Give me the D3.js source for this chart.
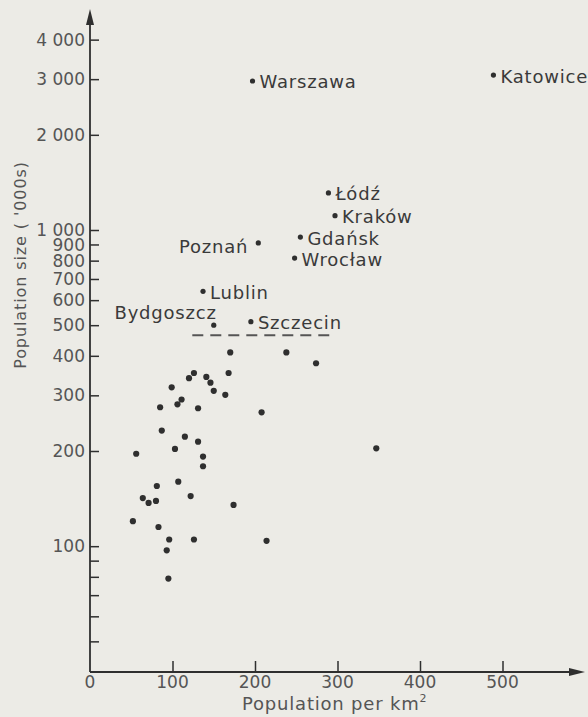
<!DOCTYPE html>
<html>
<head>
<meta charset="utf-8">
<script src="https://cdn.jsdelivr.net/npm/d3@7"></script>
<style>
  html, body { margin: 0; padding: 0; background: #ecebe6; }
  svg { display: block; }
  text { font-family: "DejaVu Sans", sans-serif; }
</style>
</head>
<body>
<svg id="chart" width="588" height="717"></svg>
<script>
// ---------- data ----------
const cityNames   = ["Warszawa", "Katowice", "Łódź", "Kraków", "Gdańsk", "Wrocław", "Poznań", "Lublin", "Bydgoszcz", "Szczecin"];
const cityDensity = [197, 489, 289, 297, 255, 248, 204, 137, 150, 195];
const cityPop     = [2960, 3090, 1310, 1110, 950, 815, 910, 640, 500, 513];

const otherDensity = [170, 238, 274, 126, 120, 141, 146, 168, 99, 150, 164, 111, 106, 85, 131, 208,
                      87, 115, 131, 103, 347, 56, 137, 137, 81, 107, 122, 64, 71, 80, 174, 52, 83,
                      96, 126, 214, 93, 95];
const otherPop     = [410, 410, 379, 353, 340, 343, 329, 353, 318, 310, 301, 291, 281, 275, 273, 265,
                      232, 222, 214, 203, 204, 196, 192, 179, 155, 160, 144, 142, 137, 139, 135, 120, 115,
                      105, 105, 104, 97, 79];

const thresholdPop = 465;
const thresholdFrom = 124, thresholdTo = 290;

const xTickValues = [100, 200, 300, 400, 500];
const xTickLabels = ["100", "200", "300", "400", "500"];
const yTickValues = [50, 60, 70, 80, 90, 100, 200, 300, 400, 500, 600, 700, 800, 900, 1000, 2000, 3000, 4000];
const yTickLabels = ["", "", "", "", "", "100", "200", "300", "400", "500", "600", "700", "800", "900",
                     "1 000", "2 000", "3 000", "4 000"];

// label placement (layout only)
const labelLeft = { "Poznań": true };
const labelAboveLeft = { "Bydgoszcz": true };

// ---------- chart ----------
const svg = d3.select("#chart");
const ink = "#2f2f2f";

const x = d3.scaleLinear().domain([0, 600]).range([90, 585]);
const y = d3.scaleLog().domain([40, 5000]).range([672, 9]);

// axes lines
const x0 = x(0), yBase = y(40);
svg.append("line").attr("x1", x0).attr("x2", x(600) - 10).attr("y1", yBase).attr("y2", yBase)
  .attr("stroke", ink).attr("stroke-width", 1.8);
svg.append("line").attr("x1", x0).attr("x2", x0).attr("y1", yBase).attr("y2", y(5000) + 10)
  .attr("stroke", ink).attr("stroke-width", 1.8);
// arrowheads
svg.append("path")
  .attr("d", `M${x0},${y(5000)} L${x0 - 4},${y(5000) + 16} L${x0 + 4},${y(5000) + 16} Z`)
  .attr("fill", ink);
svg.append("path")
  .attr("d", `M${x(600)},${yBase} L${x(600) - 16},${yBase - 4} L${x(600) - 16},${yBase + 4} Z`)
  .attr("fill", ink);

// x ticks (inward, upward)
const xAxis = d3.axisTop(x).tickValues(xTickValues).tickSize(11).tickFormat("");
const gx = svg.append("g").attr("transform", `translate(0,${yBase})`).call(xAxis);
gx.select(".domain").remove();
gx.selectAll(".tick line").attr("stroke", ink).attr("stroke-width", 1.5);

// x tick labels
const xLabels = [0].concat(xTickValues);
const xLabelText = ["0"].concat(xTickLabels);
svg.append("g").selectAll("text").data(xLabels).join("text")
  .attr("x", d => x(d)).attr("y", 688)
  .attr("text-anchor", "middle")
  .attr("font-size", 17).attr("fill", "#555")
  .text((d, i) => xLabelText[i]);

// y ticks (inward, rightward)
const yAxis = d3.axisRight(y).tickValues(yTickValues).tickSize(9).tickFormat("");
const gy = svg.append("g").attr("transform", `translate(${x0},0)`).call(yAxis);
gy.select(".domain").remove();
gy.selectAll(".tick line").attr("stroke", ink).attr("stroke-width", 1.5);

svg.append("g").selectAll("text").data(yTickValues).join("text")
  .attr("x", 85).attr("y", d => y(d))
  .attr("dy", "0.36em")
  .attr("text-anchor", "end")
  .attr("font-size", 17).attr("fill", "#555")
  .text((d, i) => yTickLabels[i]);

// axis titles
svg.append("text")
  .attr("x", 242).attr("y", 710)
  .attr("font-size", 18).attr("letter-spacing", 0.8).attr("fill", "#555")
  .text("Population per km")
  .append("tspan").attr("dy", -8).attr("font-size", 11).text("2");

svg.append("text")
  .attr("transform", `translate(26,265) rotate(-90)`)
  .attr("text-anchor", "middle")
  .attr("font-size", 16).attr("letter-spacing", 0.9).attr("fill", "#555")
  .text("Population size ( '000s)");

// threshold dashed line
svg.append("line")
  .attr("x1", x(thresholdFrom)).attr("x2", x(thresholdTo))
  .attr("y1", y(thresholdPop)).attr("y2", y(thresholdPop))
  .attr("stroke", "#555").attr("stroke-width", 2)
  .attr("stroke-dasharray", "11 7");

// other points
svg.append("g").selectAll("circle").data(otherDensity).join("circle")
  .attr("cx", d => x(d)).attr("cy", (d, i) => y(otherPop[i]))
  .attr("r", 3.1).attr("fill", ink);

// named cities
const cities = cityNames.map((n, i) => ({ name: n, d: cityDensity[i], p: cityPop[i] }));
svg.append("g").selectAll("circle").data(cities).join("circle")
  .attr("cx", c => x(c.d)).attr("cy", c => y(c.p))
  .attr("r", 2.6).attr("fill", ink);

svg.append("g").selectAll("text").data(cities).join("text")
  .attr("x", c => labelLeft[c.name] ? x(c.d) - 10 : labelAboveLeft[c.name] ? x(c.d) + 3 : x(c.d) + 7)
  .attr("y", c => labelAboveLeft[c.name] ? y(c.p) - 13 : labelLeft[c.name] ? y(c.p) + 4 : y(c.p) + 1)
  .attr("dy", "0.36em")
  .attr("text-anchor", c => (labelLeft[c.name] || labelAboveLeft[c.name]) ? "end" : "start")
  .attr("font-size", 18).attr("letter-spacing", 0.8).attr("fill", "#3a3a3a")
  .text(c => c.name);
</script>
</body>
</html>
